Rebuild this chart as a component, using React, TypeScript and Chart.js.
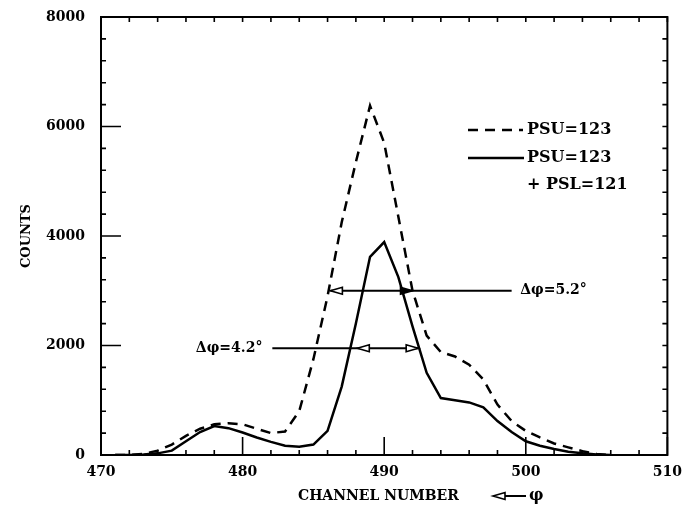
import React, { useEffect, useRef } from "react";
import { Chart, registerables } from "chart.js";

Chart.register(...registerables);

// ---- data ----
const channels = [
  471, 472, 473, 474, 475, 476, 477, 478, 479, 480, 481, 482, 483, 484, 485, 486, 487, 488,
  489, 490, 491, 492, 493, 494, 495, 496, 497, 498, 499, 500, 501, 502, 503, 504, 505, 506,
];
const psuCounts = [
  0, 0, 20, 80, 190, 350, 480, 560, 580, 560, 480, 400, 430, 800, 1750, 2900, 4250, 5350,
  6380, 5700, 4350, 3000, 2180, 1880, 1800, 1650, 1380, 920, 620, 440, 320, 210, 140, 70, 20, 0,
];
const psuPslCounts = [
  0, 0, 10, 30, 80, 250, 420, 530, 490, 410, 320, 240, 170, 150, 190, 440, 1250, 2400,
  3620, 3890, 3250, 2350, 1500, 1040, 1000, 960, 870, 620, 420, 250, 170, 110, 60, 30, 10, 0,
];
const xTickValues = [470, 480, 490, 500, 510];
const yTickValues = [0, 2000, 4000, 6000, 8000];

// width markers (channel, counts)
const upperWidth = { y: 3000, lineFrom: 486.2, lineTo: 499.0, leftHead: 486.2, rightHead: 492.0, labelAt: 499.6, label: "Δφ=5.2°" };
const lowerWidth = { y: 1950, lineFrom: 482.1, lineTo: 492.4, leftHead: 488.1, rightHead: 492.4, labelEnd: 481.4, label: "Δφ=4.2°" };

const legendLabels = ["PSU=123", "PSU=123", "+ PSL=121"];

const FONT = '"DejaVu Serif", "Liberation Serif", serif';

function drawHead(ctx: CanvasRenderingContext2D, tipX: number, y: number, dir: number, filled: boolean) {
  const len = 12;
  const hh = 3.5;
  ctx.save();
  ctx.beginPath();
  ctx.moveTo(tipX, y);
  ctx.lineTo(tipX - dir * len, y - hh);
  ctx.lineTo(tipX - dir * len, y + hh);
  ctx.closePath();
  ctx.fillStyle = filled ? "#000" : "#fff";
  ctx.fill();
  ctx.lineWidth = 1.6;
  ctx.strokeStyle = "#000";
  ctx.stroke();
  ctx.restore();
}

const decorPlugin = {
  id: "decor",
  afterDatasetsDraw(chart: any) {
    const ctx: CanvasRenderingContext2D = chart.ctx;
    const { left, right, top, bottom } = chart.chartArea;
    const xs = chart.scales.x;
    const ys = chart.scales.y;
    ctx.save();
    ctx.strokeStyle = "#000";
    ctx.fillStyle = "#000";
    // frame
    ctx.lineWidth = 2;
    ctx.strokeRect(left, top, right - left, bottom - top);
    // x ticks (bottom & top)
    ctx.lineWidth = 1.6;
    for (let c = 470; c <= 510; c += 2) {
      const px = xs.getPixelForValue(c);
      const major = c % 10 === 0;
      ctx.beginPath();
      ctx.moveTo(px, bottom);
      ctx.lineTo(px, bottom - (major ? 18 : 5));
      ctx.moveTo(px, top);
      ctx.lineTo(px, top + 5);
      ctx.stroke();
    }
    // y ticks (left & right)
    for (let v = 0; v <= 8000; v += 400) {
      const py = ys.getPixelForValue(v);
      const major = v % 2000 === 0;
      ctx.beginPath();
      ctx.moveTo(left, py);
      ctx.lineTo(left + (major ? 20 : 5), py);
      ctx.moveTo(right, py);
      ctx.lineTo(right - 5, py);
      ctx.stroke();
    }

    // width markers
    ctx.lineWidth = 2;
    const uy = ys.getPixelForValue(upperWidth.y);
    ctx.beginPath();
    ctx.moveTo(xs.getPixelForValue(upperWidth.lineFrom), uy);
    ctx.lineTo(xs.getPixelForValue(upperWidth.lineTo), uy);
    ctx.stroke();
    drawHead(ctx, xs.getPixelForValue(upperWidth.leftHead), uy, -1, false);
    drawHead(ctx, xs.getPixelForValue(upperWidth.rightHead), uy, 1, true);

    const ly = ys.getPixelForValue(lowerWidth.y);
    ctx.lineWidth = 2;
    ctx.beginPath();
    ctx.moveTo(xs.getPixelForValue(lowerWidth.lineFrom), ly);
    ctx.lineTo(xs.getPixelForValue(lowerWidth.lineTo), ly);
    ctx.stroke();
    drawHead(ctx, xs.getPixelForValue(lowerWidth.leftHead), ly, -1, false);
    drawHead(ctx, xs.getPixelForValue(lowerWidth.rightHead), ly, 1, false);

    ctx.fillStyle = "#000";
    ctx.font = `bold 14px ${FONT}`;
    ctx.textBaseline = "middle";
    ctx.textAlign = "left";
    ctx.fillText(upperWidth.label, xs.getPixelForValue(upperWidth.labelAt), uy);
    ctx.textAlign = "right";
    ctx.fillText(lowerWidth.label, xs.getPixelForValue(lowerWidth.labelEnd), ly);

    // legend
    ctx.lineWidth = 2.5;
    ctx.setLineDash([10, 7]);
    ctx.beginPath();
    ctx.moveTo(468, 130);
    ctx.lineTo(523, 130);
    ctx.stroke();
    ctx.setLineDash([]);
    ctx.beginPath();
    ctx.moveTo(468, 158);
    ctx.lineTo(524, 158);
    ctx.stroke();
    ctx.font = `bold 16px ${FONT}`;
    ctx.textAlign = "left";
    ctx.fillStyle = "#000";
    ctx.fillText(legendLabels[0], 527, 130);
    ctx.fillText(legendLabels[1], 527, 158);
    ctx.fillText(legendLabels[2], 527, 185);

    // x axis title
    ctx.font = `bold 14px ${FONT}`;
    ctx.textAlign = "left";
    ctx.fillText("CHANNEL NUMBER", 298, 496);
    // arrow phi
    ctx.lineWidth = 2;
    ctx.beginPath();
    ctx.moveTo(500, 496);
    ctx.lineTo(526, 496);
    ctx.stroke();
    drawHead(ctx, 493, 496, -1, false);
    ctx.fillStyle = "#000";
    ctx.font = `bold 16px ${FONT}`;
    ctx.fillText("φ", 529, 496);
    ctx.restore();
  },
};

export default function App() {
  const ref = useRef<HTMLCanvasElement | null>(null);
  useEffect(() => {
    if (!ref.current) return;
    const chart = new Chart(ref.current, {
      type: "line",
      data: {
        datasets: [
          {
            label: "PSU=123",
            data: channels.map((c, i) => ({ x: c, y: psuCounts[i] })),
            borderColor: "#000",
            borderWidth: 2.5,
            borderDash: [10, 7],
            pointRadius: 0,
            tension: 0,
            fill: false,
          },
          {
            label: "PSU=123 + PSL=121",
            data: channels.map((c, i) => ({ x: c, y: psuPslCounts[i] })),
            borderColor: "#000",
            borderWidth: 2.5,
            pointRadius: 0,
            tension: 0,
            fill: false,
          },
        ],
      },
      options: {
        responsive: false,
        animation: false,
        layout: { padding: { top: 17, right: 9, left: 0, bottom: 0 } },
        plugins: { legend: { display: false }, tooltip: { enabled: false } },
        scales: {
          x: {
            type: "linear",
            min: 470,
            max: 510,
            grid: { display: false },
            border: { display: false },
            afterBuildTicks: (s: any) => {
              s.ticks = xTickValues.map((v) => ({ value: v }));
            },
            afterFit: (s: any) => {
              s.height = 53;
            },
            ticks: {
              color: "#000",
              padding: 1,
              maxRotation: 0,
              callback: (v: any) => String(v),
              font: { family: FONT, weight: "bold", size: 14 },
            },
          },
          y: {
            type: "linear",
            min: 0,
            max: 8000,
            grid: { display: false, tickLength: 16 },
            border: { display: false },
            afterBuildTicks: (s: any) => {
              s.ticks = yTickValues.map((v) => ({ value: v }));
            },
            afterFit: (s: any) => {
              s.width = 101;
            },
            title: {
              display: true,
              text: "COUNTS",
              color: "#000",
              padding: { top: 19, bottom: 0 },
              font: { family: FONT, weight: "bold", size: 13 },
            },
            ticks: {
              color: "#000",
              padding: 0,
              callback: (v: any) => String(v),
              font: { family: FONT, weight: "bold", size: 14 },
            },
          },
        },
      },
      plugins: [decorPlugin],
    } as any);
    return () => chart.destroy();
  }, []);
  return (
    <div style={{ position: "absolute", left: 0, top: 0, width: 683, height: 508, background: "#fff" }}>
      <canvas ref={ref} width={683} height={508} style={{ width: 683, height: 508 }} />
    </div>
  );
}
